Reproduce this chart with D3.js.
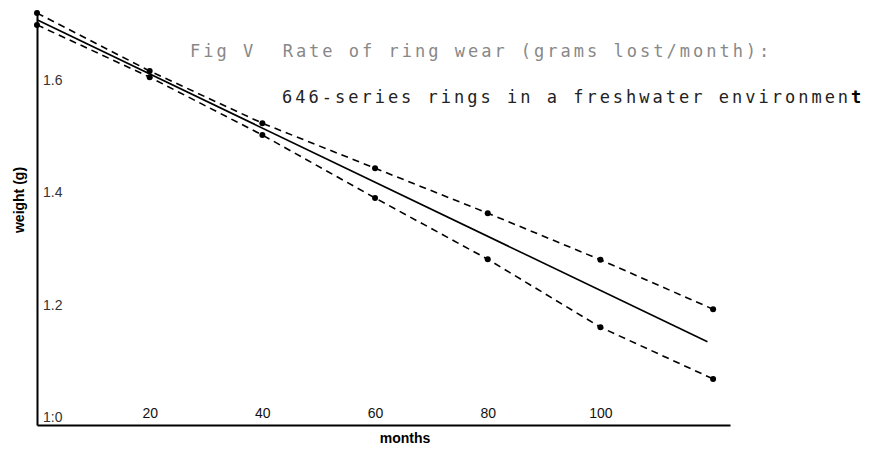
<!DOCTYPE html>
<html>
<head>
<meta charset="utf-8">
<script src="https://cdn.jsdelivr.net/npm/d3@7"></script>
<style>
  body { margin: 0; background: #fff; }
  .tick text { font-family: "Liberation Sans", Arial, sans-serif; }
</style>
</head>
<body>
<div id="chart"></div>
<script>
// months at which rings were weighed
var months = [0, 20, 40, 60, 80, 100, 120];
// upper and lower dashed envelopes (g)
var upperWeight = [1.719, 1.616, 1.523, 1.443, 1.363, 1.280, 1.192];
var lowerWeight = [1.698, 1.605, 1.502, 1.390, 1.281, 1.160, 1.068];
// fitted mean line, start and end
var fitMonths = [0, 119];
var fitWeight = [1.707, 1.134];

var xTicks = [20, 40, 60, 80, 100];
var yTicks = [1.0, 1.2, 1.4, 1.6];
var yTickLabels = ["1:0", "1.2", "1.4", "1.6"];

var svgWidth = 871;
var svgHeight = 449;

var svg = d3.select("#chart")
  .append("svg")
  .attr("width", svgWidth)
  .attr("height", svgHeight);

var x = d3.scaleLinear()
  .domain([0, 123])
  .range([37, 730]);

var y = d3.scaleLinear()
  .domain([0.986, 1.7245])
  .range([425, 10]);

// bottom axis, labels sit inside the plot just above the line
var xAxis = d3.axisBottom(x)
  .tickValues(xTicks)
  .tickSize(0)
  .tickSizeOuter(0);

var gx = svg.append("g")
  .attr("transform", "translate(0,425)")
  .call(xAxis);
gx.select(".domain").attr("stroke", "#000").attr("stroke-width", 2);
gx.selectAll(".tick text")
  .attr("y", -7)
  .attr("dy", 0)
  .attr("font-size", 14)
  .attr("fill", "#111");

// left axis with labels on the inner side
var yAxis = d3.axisRight(y)
  .tickValues(yTicks)
  .tickFormat((d, i) => yTickLabels[i])
  .tickSize(0)
  .tickSizeOuter(0);

var gy = svg.append("g")
  .attr("transform", "translate(37,0)")
  .call(yAxis);
gy.select(".domain").attr("stroke", "#000").attr("stroke-width", 2);
gy.selectAll(".tick text")
  .attr("x", 6)
  .attr("font-size", 14)
  .attr("fill", "#333");

var line = d3.line()
  .x(d => x(d[0]))
  .y(d => y(d[1]));

var upperPts = months.map((m, i) => [m, upperWeight[i]]);
var lowerPts = months.map((m, i) => [m, lowerWeight[i]]);
var fitPts = fitMonths.map((m, i) => [m, fitWeight[i]]);

[upperPts, lowerPts].forEach(function(pts) {
  svg.append("path")
    .datum(pts)
    .attr("d", line)
    .attr("fill", "none")
    .attr("stroke", "#000")
    .attr("stroke-width", 1.6)
    .attr("stroke-dasharray", "7,5");

  svg.selectAll(null)
    .data(pts)
    .enter()
    .append("circle")
    .attr("cx", d => x(d[0]))
    .attr("cy", d => y(d[1]))
    .attr("r", 3)
    .attr("fill", "#000");
});

svg.append("path")
  .datum(fitPts)
  .attr("d", line)
  .attr("fill", "none")
  .attr("stroke", "#000")
  .attr("stroke-width", 1.6);

// axis titles
svg.append("text")
  .attr("transform", "translate(24,200) rotate(-90)")
  .attr("text-anchor", "middle")
  .attr("font-family", "Liberation Sans, Arial, sans-serif")
  .attr("font-weight", "bold")
  .attr("font-size", 14)
  .text("weight (g)");

svg.append("text")
  .attr("x", 405)
  .attr("y", 443)
  .attr("text-anchor", "middle")
  .attr("font-family", "Liberation Sans, Arial, sans-serif")
  .attr("font-weight", "bold")
  .attr("font-size", 14)
  .text("months");

// figure caption in typewriter style
svg.append("text")
  .attr("x", 190)
  .attr("y", 57)
  .attr("font-family", "DejaVu Sans Mono, monospace")
  .attr("font-size", 17)
  .attr("letter-spacing", 3)
  .attr("fill", "#888")
  .style("white-space", "pre")
  .text("Fig V  Rate of ring wear (grams lost/month):");

var cap2 = svg.append("text")
  .attr("x", 282)
  .attr("y", 103)
  .attr("font-family", "DejaVu Sans Mono, monospace")
  .attr("font-size", 17)
  .attr("letter-spacing", 3)
  .attr("fill", "#222")
  .style("white-space", "pre");
cap2.append("tspan").text("646-series rings in a freshwater environmen");
cap2.append("tspan").attr("font-weight", "bold").attr("fill", "#000").text("t");
</script>
</body>
</html>
